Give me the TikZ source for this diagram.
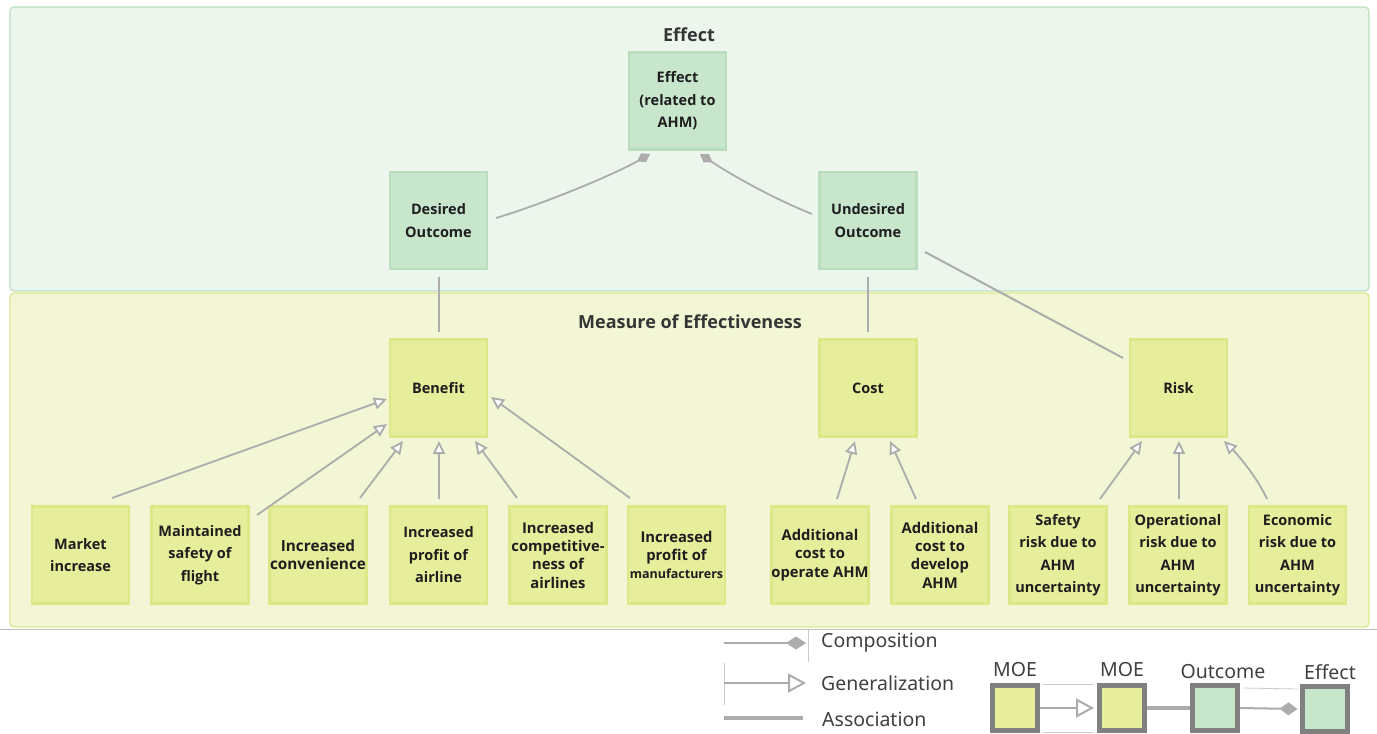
\documentclass[tikz,border=0pt]{standalone}
\usepackage{fontspec}
\setmainfont{Open Sans}
\newfontfamily\legendfont{Noto Sans}
\usetikzlibrary{arrows.meta,calc}

\definecolor{effpanel}{RGB}{236,246,237}
\definecolor{effpanelline}{RGB}{188,224,190}
\definecolor{moepanel}{RGB}{242,246,212}
\definecolor{moepanelline}{RGB}{221,232,140}
\definecolor{greenfill}{RGB}{200,230,203}
\definecolor{greenline}{RGB}{186,222,189}
\definecolor{yellowfill}{RGB}{230,237,155}
\definecolor{yellowline}{RGB}{220,231,136}
\definecolor{linkgray}{RGB}{172,172,172}
\definecolor{legendframe}{RGB}{128,128,128}
\definecolor{inkdark}{RGB}{30,30,30}

\begin{document}
\begin{tikzpicture}[x=1pt,y=-1pt,
  box/.style={rectangle, minimum width=97, minimum height=97, line width=2.5,
    align=center, inner sep=0, text=inkdark,
    font=\fontsize{14.5}{22.5}\selectfont\bfseries},
  gbox/.style={box, fill=greenfill, draw=greenline},
  ybox/.style={box, fill=yellowfill, draw=yellowline},
  tight/.style={font=\fontsize{14.8}{18.3}\selectfont\bfseries},
  paneltitle/.style={font=\fontsize{18}{20}\selectfont\bfseries, text=inkdark!90},
  assoc/.style={draw=linkgray, line width=2},
  gen/.style={draw=linkgray, line width=1.8, -{Triangle[length=13pt,width=12pt,fill=white]}},
  comp/.style={draw=linkgray, line width=1.8, -{Diamond[length=15pt,width=10pt]}},
  lgtxt/.style={font=\legendfont\fontsize{19.5}{22}\selectfont, text=inkdark!85, inner sep=0},
  lbox/.style={rectangle, minimum size=45, line width=5, draw=legendframe},
  faint/.style={draw=black!20, line width=0.8}
]
\useasboundingbox (0,0) rectangle (1377,734);
\fill[white] (0,0) rectangle (1377,734);

% panels
\draw[fill=effpanel, draw=effpanelline, line width=1.2, rounded corners=4] (10,7) rectangle (1369,291);
\draw[fill=moepanel, draw=moepanelline, line width=1.2, rounded corners=4] (10,293) rectangle (1369,627);
\draw[draw=black!25, line width=1] (0,629.5) -- (1377,629.5);

\node[paneltitle] (efftitle) at (689,35) {Effect};
\node[paneltitle] (moetitle) at (690,322) {Measure of Effectiveness};

% effect / outcome level
\node[gbox] (eff) at (677.5,101) {Effect\\(related to\\AHM)};
\node[gbox] (des) at (438.5,220.5) {Desired\\Outcome};
\node[gbox] (und) at (868,220.5) {Undesired\\Outcome};

% measures of effectiveness
\node[ybox] (ben) at (438.5,388) {Benefit};
\node[ybox] (cst) at (868,388) {Cost};
\node[ybox] (rsk) at (1178.5,388) {Risk};

\node[ybox] (mkt) at (80.5,555) {Market\\increase};
\node[ybox] (msf) at (200,555) {Maintained\\safety of\\flight};
\node[ybox, tight, font=\fontsize{15.3}{18.3}\selectfont\bfseries] (cnv) at (318,555) {Increased\\convenience};
\node[ybox] (pra) at (438.5,555) {Increased\\profit of\\airline};
\node[ybox, tight] (cmp) at (558,555) {Increased\\competitive-\\ness of\\airlines};
\node[ybox, tight] (man) at (676.5,555) {Increased\\profit of\\{\fontsize{12.5}{17}\selectfont manufacturers}};
\node[ybox, tight] (ops) at (820,555) {Additional\\cost to\\operate AHM};
\node[ybox, tight] (dev) at (940,555) {Additional\\cost to\\develop\\AHM};
\node[ybox] (sfr) at (1058,555) {Safety\\risk due to\\AHM\\uncertainty};
\node[ybox] (opr) at (1178,555) {Operational\\risk due to\\AHM\\uncertainty};
\node[ybox] (ecr) at (1297.5,555) {Economic\\risk due to\\AHM\\uncertainty};

% compositions into the effect
\draw[comp] ($(des.center)+(57.5,-2.5)$) .. controls +(50,-15) and +(-35,20) .. ($(eff.center)+(-27.5,53)$);
\draw[comp] ($(und.center)+(-56,-6.5)$) .. controls +(-40,-16) and +(30,20) .. ($(eff.center)+(22.5,53)$);

% associations
\draw[assoc] ($(des.south)+(0,7)$) -- ($(ben.north)+(0,-6)$);
\draw[assoc] ($(und.south)+(0,7)$) -- ($(cst.north)+(0,-6)$);
\draw[assoc] ($(und.center)+(57,31.5)$) -- ($(rsk.center)+(-55.5,-30)$);

% generalizations
\draw[gen] ($(mkt.center)+(31.5,-57)$) -- ($(ben.center)+(-51.5,11)$);
\draw[gen] ($(msf.center)+(57,-40)$) -- ($(ben.center)+(-51.5,36)$);
\draw[gen] ($(cnv.center)+(42,-57)$) -- ($(ben.center)+(-35.5,53)$);
\draw[gen] ($(pra.center)+(0.5,-56)$) -- ($(ben.center)+(0.5,53)$);
\draw[gen] ($(cmp.center)+(-41,-57)$) -- ($(ben.center)+(36.5,53)$);
\draw[gen] ($(man.center)+(-46.5,-57)$) -- ($(ben.center)+(52.5,9)$);
\draw[gen] ($(ops.center)+(17,-56)$) -- ($(cst.center)+(-13,53)$);
\draw[gen] ($(dev.center)+(-24,-56)$) -- ($(cst.center)+(22,53)$);
\draw[gen] ($(sfr.center)+(42,-56)$) -- ($(rsk.center)+(-36.5,53)$);
\draw[gen] ($(opr.center)+(1,-56)$) -- ($(rsk.center)+(0.5,53)$);
\draw[gen] ($(ecr.center)+(-30.5,-56)$) .. controls +(-10,-22) and +(14,14) .. ($(rsk.center)+(45.5,53)$);

% legend: connector kinds
\draw[faint] (808,630) -- (808,662);
\draw[faint] (724,663) -- (724,705);
\coordinate (lgc1) at (724,643);
\coordinate (lgc2) at (806,643);
\draw[draw=linkgray, line width=2, -{Diamond[length=20pt,width=13pt]}] (lgc1) -- (lgc2);
\node[lgtxt, anchor=west] (lgtc) at (821,643) {Composition};
\coordinate (lgg1) at (724,683);
\coordinate (lgg2) at (806,683);
\draw[draw=linkgray, line width=2, -{Triangle[length=18pt,width=19pt,fill=white]}] (lgg1) -- (lgg2);
\node[lgtxt, anchor=west] (lgtg) at (821,683) {Generalization};
\coordinate (lga1) at (724,718);
\coordinate (lga2) at (803,718);
\draw[draw=linkgray, line width=4] (lga1) -- (lga2);
\node[lgtxt, anchor=west] (lgta) at (822,719) {Association};

% legend: sample boxes
\node[lbox, fill=yellowfill] (lm1) at (1015,708) {};
\node[lbox, fill=yellowfill] (lm2) at (1121.5,708) {};
\node[lbox, fill=greenfill] (lo) at (1215,708) {};
\node[lbox, fill=greenfill] (le) at (1325,709) {};
\node[lgtxt] (lm1l) at (1015,670) {MOE};
\node[lgtxt] (lm2l) at (1122,670) {MOE};
\node[lgtxt] (lol) at (1223,672) {Outcome};
\node[lgtxt] (lel) at (1330,672) {Effect};

\draw[faint] ($(lm1.north east)+(2.5,1)$) -- ($(lm2.north west)+(-2.5,1)$);
\draw[faint] ($(lm1.south east)+(2.5,-1)$) -- ($(lm2.south west)+(-2.5,-1)$);
\draw[faint] ($(lo.north east)+(2.5,5)$) -- ($(le.north west)+(-2.5,5)$);
\draw[draw=linkgray, line width=2, -{Triangle[length=18pt,width=19pt,fill=white]}] (lm1.east) -- ($(lm2.west)+(-2.5,0)$);
\draw[draw=linkgray, line width=4] (lm2.east) -- (lo.west);
\draw[draw=linkgray, line width=2, -{Diamond[length=18pt,width=13pt]}] (lo.east) -- ($(le.west)+(-2.5,0)$);
\end{tikzpicture}
\end{document}
